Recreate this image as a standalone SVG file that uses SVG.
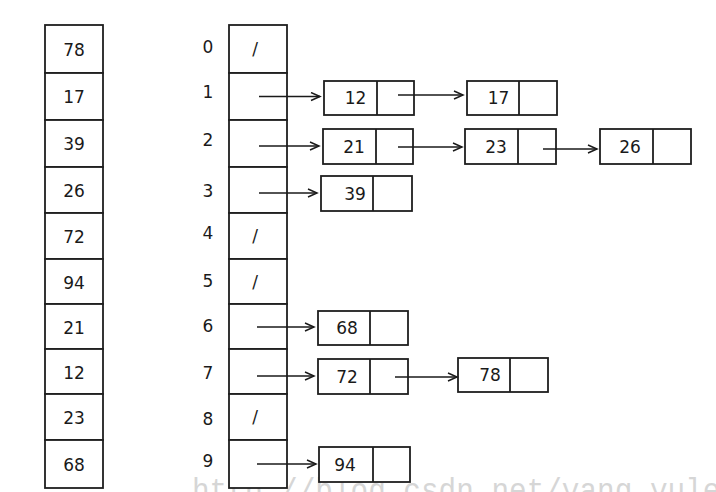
<svg xmlns="http://www.w3.org/2000/svg" width="716" height="492" viewBox="0 0 716 492">
<style>
.box{fill:#fff;stroke:#1e1e1e;stroke-width:1.8}
.div{stroke:#1e1e1e;stroke-width:1.8}
.t{font-family:"DejaVu Sans","Liberation Sans",sans-serif;font-size:17px;fill:#1a1a1a;text-anchor:middle}
.arr{stroke:#1a1a1a;stroke-width:1.3;fill:none;marker-end:url(#ah)}
.wm{font-family:"Liberation Mono","DejaVu Sans Mono",monospace;font-size:34px;fill:#d6d6d6}
</style>
<defs>
<marker id="ah" markerUnits="userSpaceOnUse" markerWidth="12" markerHeight="10" refX="10" refY="5" orient="auto">
<path d="M1,1 L10,5 L1,9" fill="none" stroke="#1a1a1a" stroke-width="1.5"/>
</marker>
</defs>
<rect width="716" height="492" fill="#fff"/>
<text class="wm" x="192" y="501" textLength="546" lengthAdjust="spacingAndGlyphs">http://blog.csdn.net/yang_yulei</text>

<g id="input-array">
<rect class="box" x="45" y="25" width="58" height="48"/>
<rect class="box" x="45" y="73" width="58" height="47"/>
<rect class="box" x="45" y="120" width="58" height="47"/>
<rect class="box" x="45" y="167" width="58" height="46"/>
<rect class="box" x="45" y="213" width="58" height="46"/>
<rect class="box" x="45" y="259" width="58" height="45"/>
<rect class="box" x="45" y="304" width="58" height="45"/>
<rect class="box" x="45" y="349" width="58" height="45"/>
<rect class="box" x="45" y="394" width="58" height="46"/>
<rect class="box" x="45" y="440" width="58" height="48"/>
<text class="t" x="74" y="56">78</text>
<text class="t" x="74" y="103">17</text>
<text class="t" x="74" y="150">39</text>
<text class="t" x="74" y="197">26</text>
<text class="t" x="74" y="243">72</text>
<text class="t" x="74" y="289">94</text>
<text class="t" x="74" y="334">21</text>
<text class="t" x="74" y="379">12</text>
<text class="t" x="74" y="424">23</text>
<text class="t" x="74" y="471">68</text>
</g>

<g id="indices">
<text class="t" x="208" y="53">0</text>
<text class="t" x="208" y="98">1</text>
<text class="t" x="208" y="146">2</text>
<text class="t" x="208" y="197">3</text>
<text class="t" x="208" y="239">4</text>
<text class="t" x="208" y="287">5</text>
<text class="t" x="208" y="332">6</text>
<text class="t" x="208" y="379">7</text>
<text class="t" x="208" y="425">8</text>
<text class="t" x="208" y="467">9</text>
</g>

<g id="hash-table">
<rect class="box" x="229" y="25" width="58" height="48"/>
<rect class="box" x="229" y="73" width="58" height="47"/>
<rect class="box" x="229" y="120" width="58" height="47"/>
<rect class="box" x="229" y="167" width="58" height="46"/>
<rect class="box" x="229" y="213" width="58" height="46"/>
<rect class="box" x="229" y="259" width="58" height="45"/>
<rect class="box" x="229" y="304" width="58" height="45"/>
<rect class="box" x="229" y="349" width="58" height="45"/>
<rect class="box" x="229" y="394" width="58" height="46"/>
<rect class="box" x="229" y="440" width="58" height="48"/>
<text class="t" x="255" y="55">/</text>
<text class="t" x="255" y="242">/</text>
<text class="t" x="255" y="288">/</text>
<text class="t" x="255" y="423">/</text>
</g>

<g id="node-12"><rect class="box" x="324" y="81" width="90" height="34"/><line class="div" x1="377" y1="81" x2="377" y2="115"/><text class="t" x="355.5" y="104">12</text></g>
<g id="node-17"><rect class="box" x="467" y="81" width="90" height="34"/><line class="div" x1="519" y1="81" x2="519" y2="115"/><text class="t" x="498.5" y="104">17</text></g>
<g id="node-21"><rect class="box" x="323" y="129" width="90" height="35"/><line class="div" x1="376" y1="129" x2="376" y2="164"/><text class="t" x="354" y="152.5">21</text></g>
<g id="node-23"><rect class="box" x="465" y="129" width="91" height="35"/><line class="div" x1="518" y1="129" x2="518" y2="164"/><text class="t" x="496" y="152.5">23</text></g>
<g id="node-26"><rect class="box" x="600" y="129" width="91" height="35"/><line class="div" x1="653" y1="129" x2="653" y2="164"/><text class="t" x="630" y="152.5">26</text></g>
<g id="node-39"><rect class="box" x="321" y="176" width="91" height="35"/><line class="div" x1="373" y1="176" x2="373" y2="211"/><text class="t" x="355" y="199.5">39</text></g>
<g id="node-68"><rect class="box" x="318" y="311" width="90" height="34"/><line class="div" x1="370" y1="311" x2="370" y2="345"/><text class="t" x="347" y="334">68</text></g>
<g id="node-72"><rect class="box" x="318" y="359" width="90" height="35"/><line class="div" x1="370" y1="359" x2="370" y2="394"/><text class="t" x="347" y="382.5">72</text></g>
<g id="node-78"><rect class="box" x="458" y="358" width="90" height="34"/><line class="div" x1="510" y1="358" x2="510" y2="392"/><text class="t" x="490" y="381">78</text></g>
<g id="node-94"><rect class="box" x="319" y="447" width="91" height="35"/><line class="div" x1="373" y1="447" x2="373" y2="482"/><text class="t" x="345" y="470.5">94</text></g>

<g id="connectors">
<line class="arr" x1="259" y1="96.5" x2="320" y2="96.5"/>
<line class="arr" x1="259" y1="146" x2="319" y2="146"/>
<line class="arr" x1="259" y1="193" x2="317" y2="193"/>
<line class="arr" x1="257" y1="327" x2="314" y2="327"/>
<line class="arr" x1="257" y1="376" x2="314" y2="376"/>
<line class="arr" x1="257" y1="464" x2="316" y2="464"/>
<line class="arr" x1="398" y1="95" x2="463" y2="95"/>
<line class="arr" x1="398" y1="147" x2="462" y2="147"/>
<line class="arr" x1="543" y1="149" x2="597" y2="149"/>
<line class="arr" x1="395" y1="377" x2="457" y2="377"/>
</g>
</svg>
